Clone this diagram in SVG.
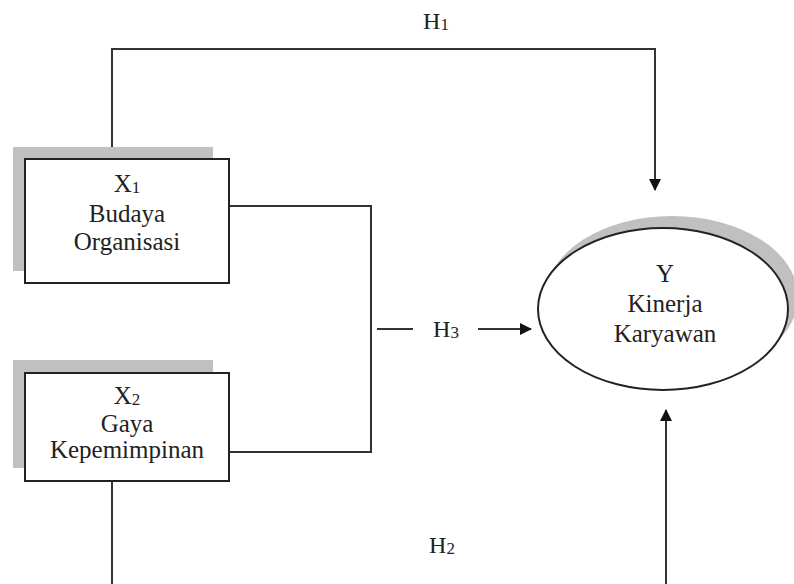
<svg xmlns="http://www.w3.org/2000/svg" width="794" height="584" viewBox="0 0 794 584">
<style>
.t{font-family:"Liberation Serif","Times New Roman",serif;font-size:25px;fill:#222;text-anchor:middle}
.h{font-family:"Liberation Serif","Times New Roman",serif;font-size:24px;fill:#222;text-anchor:middle}
.sub{font-size:17px}
.ln{fill:none;stroke:#333;stroke-width:2}
.box{fill:#fff;stroke:#222;stroke-width:2}
.sh{fill:#c0c0c0}
</style>
<defs>
<marker id="ah" markerWidth="12" markerHeight="12" refX="11" refY="6" orient="auto" markerUnits="userSpaceOnUse">
<path d="M0,0 L12,6 L0,12 Z" fill="#111"/>
</marker>
</defs>
<rect width="794" height="584" fill="#fff"/>
<g id="connectors">
<path class="ln" d="M112,147 V49 H655 V190" marker-end="url(#ah)"/>
<path class="ln" d="M229,206 H371 V452 H229"/>
<line class="ln" x1="377" y1="329" x2="413" y2="329"/>
<line class="ln" x1="478" y1="329" x2="531" y2="329" marker-end="url(#ah)"/>
<path class="ln" d="M112,481 V584"/>
<path class="ln" d="M666,584 V410" marker-end="url(#ah)"/>
<text class="h" x="436" y="29">H<tspan class="sub" dy="1">1</tspan></text>
<text class="h" x="446" y="337">H<tspan class="sub" dy="1">3</tspan></text>
<text class="h" x="442" y="553">H<tspan class="sub" dy="1">2</tspan></text>
</g>
<g id="x1">
<rect class="sh" x="13" y="147" width="200" height="124"/>
<rect class="box" x="25" y="159" width="204" height="124"/>
<text class="t" x="127" y="192">X<tspan class="sub" dy="1">1</tspan></text>
<text class="t" x="127" y="222">Budaya</text>
<text class="t" x="127" y="250">Organisasi</text>
</g>
<g id="x2">
<rect class="sh" x="13" y="360" width="200" height="108"/>
<rect class="box" x="25" y="373" width="204" height="108"/>
<text class="t" x="127" y="404">X<tspan class="sub" dy="1">2</tspan></text>
<text class="t" x="127" y="432">Gaya</text>
<text class="t" x="127" y="458">Kepemimpinan</text>
</g>
<g id="y">
<ellipse class="sh" cx="672" cy="297" rx="126" ry="81"/>
<ellipse class="box" cx="663" cy="309" rx="125" ry="81"/>
<text class="t" x="665" y="282">Y</text>
<text class="t" x="665" y="312">Kinerja</text>
<text class="t" x="665" y="342">Karyawan</text>
</g>
</svg>
